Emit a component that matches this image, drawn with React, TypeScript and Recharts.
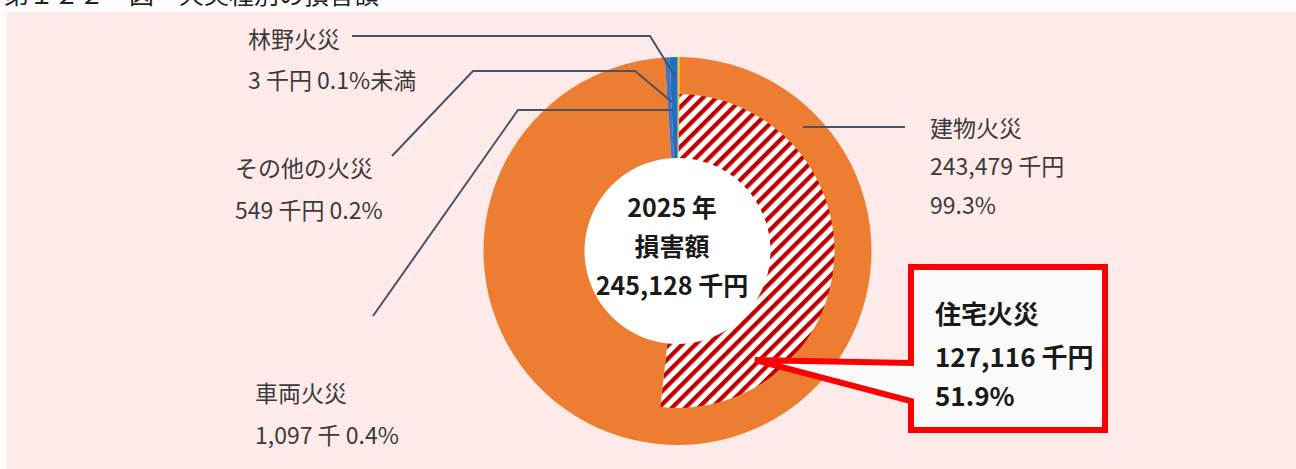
import { PieChart, Pie, Cell } from 'recharts';

// 外側リング: 火災種別
const outerNames = ['林野火災', '建物火災', 'その他の火災', '車両火災'];
const outerValues = [3, 243479, 549, 1097];
const outerColors = ['#FFC000', '#ED7D31', '#4472C4', '#1F6FC0'];

// 内側リング: 建物火災の内訳
const innerNames = ['林野火災', '住宅火災', '住宅以外の建物火災', 'その他の火災', '車両火災'];
const innerValues = [3, 127116, 116363, 549, 1097];
const innerColors = ['#FFC000', 'url(#hatch)', '#ED7D31', '#4472C4', '#1F6FC0'];

const totalLabel = ['2025 年', '損害額', '245,128 千円'];

const FONT = "'Noto Sans CJK JP', 'Noto Sans', sans-serif";
const LINE = '#44546A';
const TXT = '#3a3a3a';

const outerData = outerNames.map((name, i) => ({ name, value: outerValues[i] }));
const innerData = innerNames.map((name, i) => ({ name, value: innerValues[i] }));
const centerData = [{ name: '合計', value: outerValues.reduce((a, b) => a + b, 0) }];

function Label({ x, y, children, size = 23, bold = false, anchor = 'start', color = TXT }: any) {
  return (
    <text
      x={x}
      y={y}
      fontFamily={FONT}
      fontSize={size}
      fontWeight={bold ? 700 : 400}
      fill={color}
      textAnchor={anchor}
      dominantBaseline="central"
    >
      {children}
    </text>
  );
}

export default function App() {
  return (
    <div
      style={{
        position: 'absolute',
        left: 0,
        top: 0,
        width: 1296,
        height: 469,
        overflow: 'hidden',
        background: '#fdfdfd',
      }}
    >
      <div style={{ position: 'absolute', left: 7, top: 12, width: 1289, height: 457, background: '#FFEAEA' }} />
      <div style={{ position: 'absolute', left: 0, top: 0 }}>
        <PieChart width={1296} height={469} margin={{ top: 0, right: 0, bottom: 0, left: 0 }}>
          <defs>
            <pattern id="hatch" patternUnits="userSpaceOnUse" width={9.4} height={9.4} patternTransform="rotate(45)">
              <rect width={9.4} height={9.4} fill="#ffffff" />
              <rect width={4.3} height={9.4} fill="#C00000" />
            </pattern>
          </defs>
          <Pie
            data={outerData}
            dataKey="value"
            nameKey="name"
            cx={677.5}
            cy={251}
            innerRadius={155}
            outerRadius={194}
            startAngle={90}
            endAngle={-270}
            minAngle={0.7}
            stroke="none"
            isAnimationActive={false}
          >
            {outerData.map((d, i) => (
              <Cell key={d.name} fill={outerColors[i]} />
            ))}
          </Pie>
          <Pie
            data={innerData}
            dataKey="value"
            nameKey="name"
            cx={677.5}
            cy={251}
            innerRadius={92}
            outerRadius={157}
            startAngle={90}
            endAngle={-270}
            minAngle={0.7}
            stroke="none"
            isAnimationActive={false}
          >
            {innerData.map((d, i) => (
              <Cell key={d.name} fill={innerColors[i]} />
            ))}
          </Pie>
          <Pie
            data={centerData}
            dataKey="value"
            cx={677.5}
            cy={251}
            innerRadius={0}
            outerRadius={93}
            stroke="none"
            fill="#ffffff"
            isAnimationActive={false}
          />
        </PieChart>
      </div>
      <svg width={1296} height={469} style={{ position: 'absolute', left: 0, top: 0, pointerEvents: 'none' }}>
        {/* 図の表題 (上端で切れている) */}
        <Label x={4} y={-7} size={25} color="#222">第１２２　図　火災種別の損害額</Label>

        {/* 引出線 */}
        <polyline points="352,36 650,36 676,78" fill="none" stroke={LINE} strokeWidth={2} />
        <polyline points="392,156 473,71 635,71 672,102" fill="none" stroke={LINE} strokeWidth={2} />
        <polyline points="373,316 518,110 673,110" fill="none" stroke={LINE} strokeWidth={2} />
        <line x1={803} y1={127} x2={905} y2={127} stroke={LINE} strokeWidth={2} />

        <Label x={248} y={38}>林野火災</Label>
        <Label x={248} y={79}>3 千円 0.1%未満</Label>
        <Label x={235} y={167}>その他の火災</Label>
        <Label x={235} y={209}>549 千円 0.2%</Label>
        <Label x={930} y={127}>建物火災</Label>
        <Label x={930} y={165}>243,479 千円</Label>
        <Label x={930} y={204}>99.3%</Label>
        <Label x={255} y={392}>車両火災</Label>
        <Label x={255} y={434}>1,097 千 0.4%</Label>

        {totalLabel.map((t, i) => (
          <Label key={t} x={672} y={206 + i * 39} size={25} bold anchor="middle" color="#1a1a1a">
            {t}
          </Label>
        ))}

        {/* 住宅火災の吹き出し */}
        <path
          d="M911,267 L1105,267 L1105,430 L911,430 L911,401 L755,360 L911,363 Z"
          fill="#FAFAFA"
          stroke="#FF0000"
          strokeWidth={6}
        />
        <Label x={935} y={312} size={26} bold color="#1a1a1a">住宅火災</Label>
        <Label x={935} y={355} size={26} bold color="#1a1a1a">127,116 千円</Label>
        <Label x={935} y={394} size={26} bold color="#1a1a1a">51.9%</Label>
      </svg>
    </div>
  );
}
